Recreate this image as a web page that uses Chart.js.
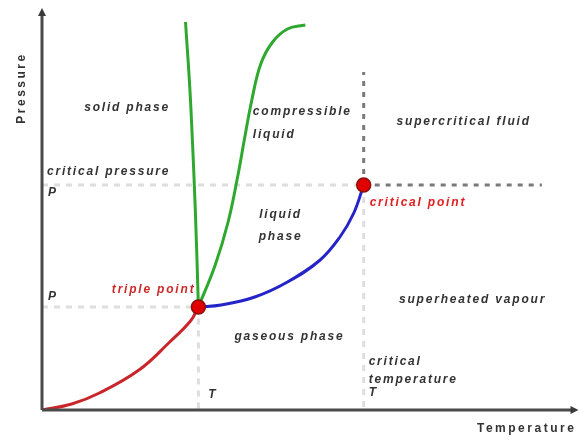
<!DOCTYPE html>
<html>
<head>
    <title>Phase diagram</title>
    <script src="https://cdn.jsdelivr.net/npm/chart.js"></script>
    <style>
        body { margin: 0; background: #fff; }
        #wrap { width: 585px; height: 442px; }
    </style>
</head>
<body>
    <div id="wrap"><canvas id="phaseChart" width="585" height="442"></canvas></div>

    <script>
        // curve points, x = temperature, y = pressure (arbitrary units)
        const sublimationT = [0, 30, 58, 98, 128, 150, 158];
        const sublimationP = [0, 6, 17, 40, 67, 89, 103];

        const vaporT = [158, 181, 215, 248, 281, 301, 315, 325];
        const vaporP = [103, 105, 113, 128, 150, 173, 197, 225];

        const meltT = [158, 155, 150, 145];
        const meltP = [103, 197, 310, 388];

        const compressT = [158, 175, 188, 198, 204, 212, 221, 233, 248, 266];
        const compressP = [103, 145, 188, 235, 268, 310, 346, 368, 381, 385];

        const specialT = [158, 325];
        const specialP = [103, 225];

        const tMax = 540;
        const pMax = 400;

        // text labels: [text, T, P, color, align]
        const labels = [
            ['solid phase', 86, 302, '#333', 'center'],
            ['compressible', 213, 298, '#333', 'left'],
            ['liquid', 213, 275, '#333', 'left'],
            ['supercritical fluid', 426, 288, '#333', 'center'],
            ['critical pressure', 5, 238, '#333', 'left'],
            ['P', 6, 217, '#333', 'left'],
            ['critical point', 331, 207, '#e02020', 'left'],
            ['liquid', 241, 195, '#333', 'center'],
            ['phase', 241, 173, '#333', 'center'],
            ['triple point', 155, 120, '#cc2a2a', 'right'],
            ['P', 6, 113, '#333', 'left'],
            ['superheated vapour', 435, 110, '#333', 'center'],
            ['gaseous phase', 250, 73, '#333', 'center'],
            ['critical', 330, 48, '#333', 'left'],
            ['temperature', 330, 30, '#333', 'left'],
            ['T', 330, 17, '#333', 'left'],
            ['T', 168, 15, '#333', 'left']
        ];

        const toXY = (xs, ys) => xs.map((x, i) => ({ x: x, y: ys[i] }));

        const axisPlugin = {
            id: 'axes',
            afterDatasetsDraw(chart) {
                const ctx = chart.ctx;
                const xs = chart.scales.x, ys = chart.scales.y;
                const x0 = xs.getPixelForValue(0), y0 = ys.getPixelForValue(0);
                const xEnd = xs.getPixelForValue(tMax), yTop = ys.getPixelForValue(pMax);
                ctx.save();
                ctx.strokeStyle = '#4a4a4a';
                ctx.fillStyle = '#3a3a3a';
                ctx.lineWidth = 3;
                ctx.beginPath();
                ctx.moveTo(x0, y0);
                ctx.lineTo(x0, yTop + 4);
                ctx.moveTo(x0, y0);
                ctx.lineTo(xEnd - 4, y0);
                ctx.stroke();
                // arrow heads
                ctx.beginPath();
                ctx.moveTo(x0, yTop - 2);
                ctx.lineTo(x0 - 4, yTop + 6);
                ctx.lineTo(x0 + 4, yTop + 6);
                ctx.closePath();
                ctx.fill();
                ctx.beginPath();
                ctx.moveTo(xEnd + 2, y0);
                ctx.lineTo(xEnd - 6, y0 - 4);
                ctx.lineTo(xEnd - 6, y0 + 4);
                ctx.closePath();
                ctx.fill();

                // region labels
                ctx.font = 'italic bold 12px "Liberation Sans", Arial, sans-serif';
                ctx.letterSpacing = '1.8px';
                ctx.textBaseline = 'middle';
                labels.forEach(l => {
                    ctx.fillStyle = l[3];
                    ctx.textAlign = l[4];
                    ctx.fillText(l[0], xs.getPixelForValue(l[1]), ys.getPixelForValue(l[2]));
                });

                // axis titles
                ctx.fillStyle = '#333';
                ctx.font = 'bold 12px "Liberation Sans", Arial, sans-serif';
                ctx.letterSpacing = '2.5px';
                ctx.textAlign = 'left';
                ctx.fillText('Temperature', 477, 429);
                ctx.save();
                ctx.translate(22, 88);
                ctx.rotate(-Math.PI / 2);
                ctx.textAlign = 'center';
                ctx.fillText('Pressure', 0, 0);
                ctx.restore();
                ctx.restore();
            }
        };

        const lightDash = {
            borderColor: '#dedede', borderWidth: 3, borderDash: [6, 6],
            pointRadius: 0, showLine: true, tension: 0, order: 10
        };
        const darkDash = {
            borderColor: '#7a7a7a', borderWidth: 3, borderDash: [5, 6],
            pointRadius: 0, showLine: true, tension: 0, order: 9
        };
        const curve = (data, color) => ({
            data: data, borderColor: color, borderWidth: 3, pointRadius: 0,
            showLine: true, tension: 0.4, order: 5
        });

        const ctx = document.getElementById('phaseChart').getContext('2d');
        new Chart(ctx, {
            type: 'scatter',
            data: {
                datasets: [
                    Object.assign({ data: toXY([0, specialT[0], specialT[0]], [specialP[0], specialP[0], 0]) }, lightDash),
                    Object.assign({ data: toXY([0, specialT[1]], [specialP[1], specialP[1]]) }, lightDash),
                    Object.assign({ data: toXY([specialT[1], specialT[1]], [specialP[1], 0]) }, lightDash),
                    Object.assign({ data: toXY([specialT[1], 505], [specialP[1], specialP[1]]) }, darkDash),
                    Object.assign({ data: toXY([specialT[1], specialT[1]], [specialP[1], 338]) }, darkDash),
                    curve(toXY(sublimationT, sublimationP), '#c8262a'),
                    curve(toXY(vaporT, vaporP), '#2424c8'),
                    curve(toXY(meltT, meltP), '#2ea82e'),
                    curve(toXY(compressT, compressP), '#2ea82e'),
                    {
                        data: toXY(specialT, specialP),
                        pointRadius: 7, pointBackgroundColor: '#e00000',
                        pointBorderColor: '#8a1010', pointBorderWidth: 1.5,
                        showLine: false, order: 1
                    }
                ]
            },
            options: {
                responsive: false,
                animation: false,
                layout: { padding: { left: 42, top: 10, right: 3, bottom: 32 } },
                plugins: { legend: { display: false }, tooltip: { enabled: false } },
                scales: {
                    x: { type: 'linear', min: 0, max: tMax, display: false },
                    y: { type: 'linear', min: 0, max: pMax, display: false }
                }
            },
            plugins: [axisPlugin]
        });
    </script>
</body>
</html>
